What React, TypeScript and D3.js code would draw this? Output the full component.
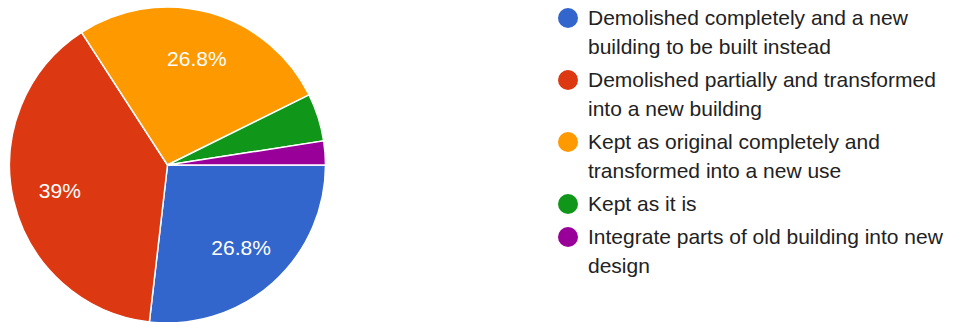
import React from "react";
import * as d3 from "d3";

const categories = [
  "Demolished completely and a new building to be built instead",
  "Demolished partially and transformed into a new building",
  "Kept as original completely and transformed into a new use",
  "Kept as it is",
  "Integrate parts of old building into new design",
];
const legendLines = [
  ["Demolished completely and a new", "building to be built instead"],
  ["Demolished partially and transformed", "into a new building"],
  ["Kept as original completely and", "transformed into a new use"],
  ["Kept as it is"],
  ["Integrate parts of old building into new", "design"],
];
const values = [11, 16, 11, 2, 1];
const labels = ["26.8%", "39%", "26.8%", "", ""];
const colors = ["#3366cc", "#dc3912", "#ff9900", "#109618", "#990099"];

const W = 956;
const H = 322;
const cx = 167.5;
const cy = 165;
const R = 158;

export default function App() {
  const pie = d3
    .pie<number>()
    .sort(null)
    .startAngle(Math.PI / 2)
    .endAngle(Math.PI / 2 + 2 * Math.PI)(values);
  const arc = d3.arc<d3.PieArcDatum<number>>().innerRadius(0).outerRadius(R);
  const labelArc = d3
    .arc<d3.PieArcDatum<number>>()
    .innerRadius(R * 0.7)
    .outerRadius(R * 0.7);

  const lineH = 29;
  const gap = 4;
  let y = 18;
  const legendItems = legendLines.map((lines, i) => {
    const item = { y, lines, i };
    y += lines.length * lineH + gap;
    return item;
  });

  return (
    <svg
      width={W}
      height={H}
      style={{ position: "absolute", left: 0, top: 0, background: "#fff" }}
      fontFamily="'Liberation Sans', Arial, sans-serif"
    >
      <g transform={`translate(${cx},${cy})`}>
        {pie.map((d, i) => (
          <path key={i} d={arc(d) || ""} fill={colors[i]} stroke="#fff" strokeWidth={1.5}>
            <title>{categories[i]}</title>
          </path>
        ))}
        {pie.map((d, i) => {
          const [x, yy] = labelArc.centroid(d);
          return labels[i] ? (
            <text
              key={i}
              x={x}
              y={yy}
              dy="0.35em"
              textAnchor="middle"
              fill="#fff"
              fontSize={21}
            >
              {labels[i]}
            </text>
          ) : null;
        })}
      </g>
      <g>
        {legendItems.map((it) => (
          <g key={it.i}>
            <circle cx={568} cy={it.y} r={10} fill={colors[it.i]} />
            {it.lines.map((ln, j) => (
              <text
                key={j}
                x={588}
                y={it.y + j * lineH}
                dy="0.35em"
                fontSize={21}
                fill="#222222"
              >
                {ln}
              </text>
            ))}
          </g>
        ))}
      </g>
    </svg>
  );
}
